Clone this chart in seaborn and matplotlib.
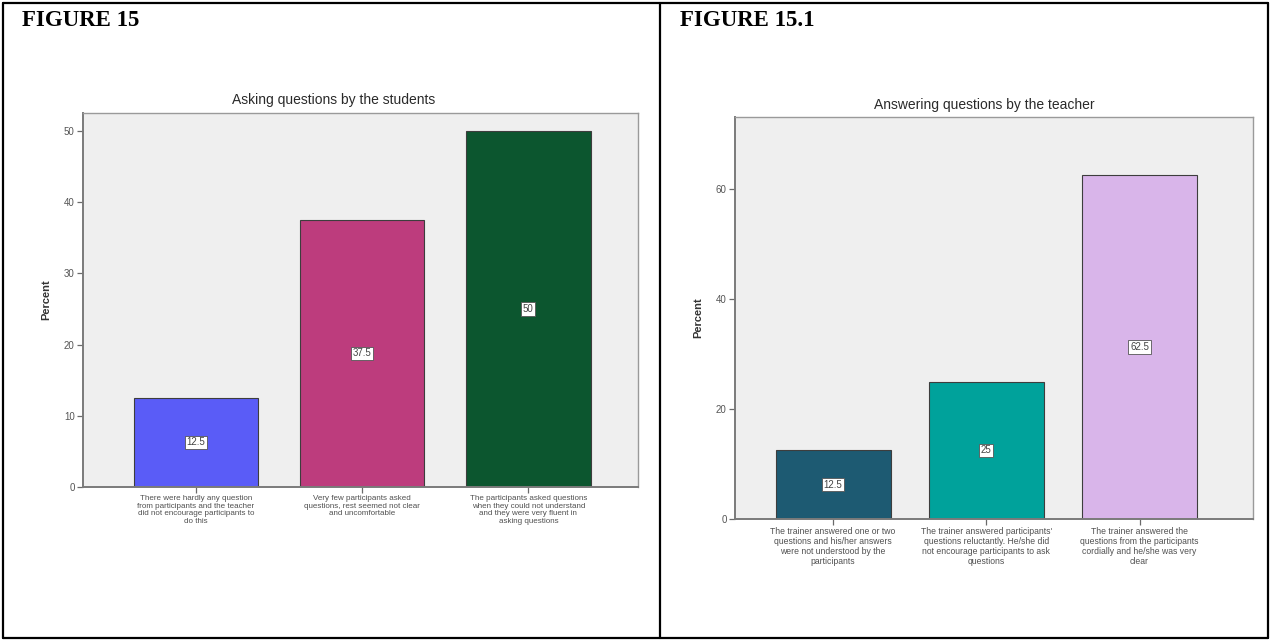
import matplotlib
matplotlib.use("Agg")
import matplotlib.pyplot as plt
from matplotlib.lines import Line2D
import seaborn as sns
import pandas as pd

# ---- data ----
asking_labels = [
    "There were hardly any question\nfrom participants and the teacher\ndid not encourage participants to\ndo this",
    "Very few participants asked\nquestions, rest seemed not clear\nand uncomfortable",
    "The participants asked questions\nwhen they could not understand\nand they were very fluent in\nasking questions",
]
asking_percent = [12.5, 37.5, 50]
asking_colors = ["#5a5cf7", "#bd3c7d", "#0c562f"]
asking_yticks = [0, 10, 20, 30, 40, 50]

answering_labels = [
    "The trainer answered one or two\nquestions and his/her answers\nwere not understood by the\nparticipants",
    "The trainer answered participants'\nquestions reluctantly. He/she did\nnot encourage participants to ask\nquestions",
    "The trainer answered the\nquestions from the participants\ncordially and he/she was very\nclear",
]
answering_percent = [12.5, 25, 62.5]
answering_colors = ["#1d5a72", "#00a29b", "#d9b5ea"]
answering_yticks = [0, 20, 40, 60]

sns.set_theme(style="white")
plt.rcParams["font.family"] = ["Liberation Sans", "DejaVu Sans"]

W, H = 1271, 641
fig = plt.figure(figsize=(W / 100, H / 100), dpi=100)
fig.patch.set_facecolor("white")


def px_axes(x0, y0, x1, y1):
    return fig.add_axes([x0 / W, 1 - y1 / H, (x1 - x0) / W, (y1 - y0) / H])


def draw_panel(ax, labels, values, colors, yticks, ylim, xlim, title, title_xy,
               label_size, label_spacing):
    df = pd.DataFrame({"category": labels, "percent": values})
    sns.barplot(data=df, x="category", y="percent", hue="category",
                palette=colors, legend=False, ax=ax, width=0.75,
                edgecolor="#3d3d3d", linewidth=0.8, saturation=1)
    ax.set_facecolor("#efefef")
    for s in ax.spines.values():
        s.set_color("#9a9a9a")
        s.set_linewidth(1.0)
    ax.spines["left"].set_color("#7a7a7a")
    ax.spines["bottom"].set_color("#7a7a7a")
    ax.spines["left"].set_linewidth(1.4)
    ax.spines["bottom"].set_linewidth(1.4)
    ax.set_ylim(*ylim)
    ax.set_xlim(*xlim)
    ax.set_yticks(yticks)
    ax.set_yticklabels([str(t) for t in yticks], fontsize=7, color="#555555")
    ax.set_xticks(range(len(labels)))
    ax.set_xticklabels(labels, fontsize=label_size, color="#505050",
                       linespacing=label_spacing)
    ax.tick_params(axis="both", which="both", length=4, width=0.9,
                   color="#6a6a6a", direction="out", bottom=True, left=True, pad=2)
    ax.set_xlabel("")
    ax.set_ylabel("Percent", fontsize=8, fontweight="bold", color="#333333", labelpad=9)
    for patch, v in zip(ax.patches, values):
        cx = patch.get_x() + patch.get_width() / 2
        ax.text(cx, v / 2, f"{v:g}", ha="center", va="center", fontsize=7,
                color="#444444",
                bbox=dict(boxstyle="square,pad=0.18", facecolor="white",
                          edgecolor="#555555", linewidth=0.6))
    fig.text(title_xy[0] / W, 1 - title_xy[1] / H, title, ha="center", va="center",
             fontsize=10, color="#2a2a2a")


ax1 = px_axes(83, 113, 638, 487)
draw_panel(ax1, asking_labels, asking_percent, asking_colors, asking_yticks,
           (0, 52.5), (-0.68, 2.66), "Asking questions by the students", (334, 100),
           5.8, 1.1)

ax2 = px_axes(735, 117, 1253, 519)
draw_panel(ax2, answering_labels, answering_percent, answering_colors, answering_yticks,
           (0, 73.1), (-0.64, 2.74), "Answering questions by the teacher", (984, 105),
           6.2, 1.15)

# table frame and headings
frame_kw = dict(color="black", linewidth=1.6, transform=fig.transFigure)
for x in (3, 660, 1268):
    fig.add_artist(Line2D([x / W, x / W], [1 - 3 / H, 1 - 638 / H], **frame_kw))
for y in (3, 638):
    fig.add_artist(Line2D([3 / W, 1268 / W], [1 - y / H, 1 - y / H], **frame_kw))

fig.text(22 / W, 1 - 20 / H, "FIGURE 15", ha="left", va="center", fontsize=16.5,
         fontweight="bold", family="Liberation Serif", color="black")
fig.text(680 / W, 1 - 20 / H, "FIGURE 15.1", ha="left", va="center", fontsize=16.5,
         fontweight="bold", family="Liberation Serif", color="black")

fig.savefig("out.png", dpi=100, facecolor="white")
